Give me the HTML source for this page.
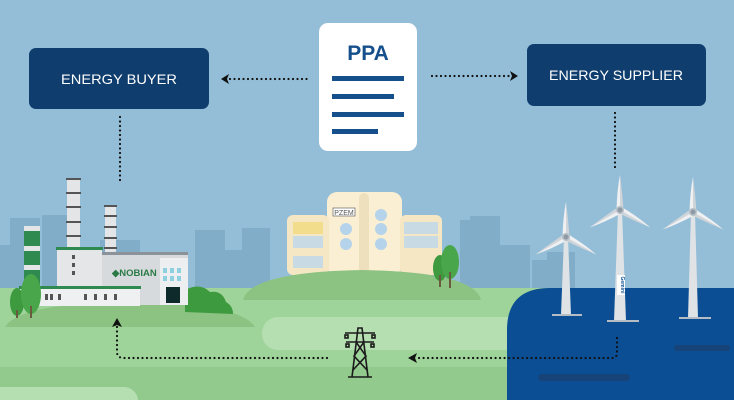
<!DOCTYPE html>
<html><head><meta charset="utf-8"><style>
html,body{margin:0;padding:0;width:734px;height:400px;overflow:hidden;background:#94bed7}
svg{display:block}
text{font-family:"Liberation Sans",sans-serif}
</style></head><body>
<svg width="734" height="400" viewBox="0 0 734 400" xmlns="http://www.w3.org/2000/svg">
<defs>
<g id="blade"><path d="M-3.5,0 Q-3,-20 0,-35 L3,0 Z" fill="#eef0f2"/><path d="M0,0 L0,-35 Q2,-20 3.5,0 Z" fill="#cfd4d9"/></g>
<g id="rotor">
<use href="#blade"/><use href="#blade" transform="rotate(120)"/><use href="#blade" transform="rotate(240)"/>
<circle r="4" fill="#b9c1c8"/><circle r="2.5" fill="#8e9aa5"/>
</g>
</defs>
<rect width="734" height="400" fill="#94bed7"/>
<!-- skyline -->
<g fill="#82adc9">
<rect x="0" y="245" width="40" height="45"/><rect x="10" y="218" width="30" height="72"/>
<rect x="42" y="215" width="25" height="75"/><rect x="195" y="230" width="30" height="60"/>
<rect x="225" y="250" width="20" height="40"/><rect x="242" y="228" width="28" height="62"/>
<rect x="460" y="220" width="40" height="70"/><rect x="500" y="245" width="30" height="45"/>
<rect x="470" y="216" width="30" height="10"/>
<rect x="532" y="260" width="15" height="30"/><rect x="547" y="252" width="28" height="38"/>
<rect x="100" y="240" width="40" height="50"/>
</g>
<!-- ground -->
<rect x="0" y="288" width="734" height="112" fill="#9ed39a"/>
<rect x="0" y="367" width="734" height="33" fill="#92ca8d"/>
<!-- center hill & building -->
<g>
<rect x="327" y="192" width="75" height="83" rx="10" fill="#fbefd3"/>
<rect x="287" y="215" width="42" height="60" rx="6" fill="#f5e6c4"/>
<rect x="400" y="215" width="42" height="60" rx="6" fill="#f5e6c4"/>
<rect x="359" y="193" width="10" height="82" rx="5" fill="#efe0bd"/>
<rect x="293" y="222" width="30" height="12" fill="#f2dd8c"/>
<rect x="293" y="236" width="30" height="12" fill="#c8dbe5"/>
<rect x="404" y="222" width="34" height="12" fill="#c8dbe5"/>
<rect x="404" y="236" width="34" height="12" fill="#c8dbe5"/>
<rect x="293" y="256" width="30" height="12" fill="#c8dbe5"/>
<circle cx="346" cy="229" r="6" fill="#b5d3ea"/><circle cx="346" cy="244" r="6" fill="#b5d3ea"/>
<circle cx="381" cy="215" r="6" fill="#b5d3ea"/><circle cx="381" cy="229" r="6" fill="#b5d3ea"/><circle cx="381" cy="244" r="6" fill="#b5d3ea"/>
<rect x="333" y="208" width="22" height="8" fill="#fff" stroke="#666" stroke-width="0.7"/>
<text x="344" y="215" font-size="7" text-anchor="middle" fill="#555">PZEM</text>
<path d="M243,300 Q250,272 362,270 Q474,272 481,300 Z" fill="#8cc382"/>
<ellipse cx="440" cy="268" rx="7" ry="13" fill="#3f9a3f"/><rect x="439" y="275" width="2" height="12" fill="#6a5a40"/>
<ellipse cx="450" cy="262" rx="9" ry="17" fill="#4aa64a"/><rect x="449" y="272" width="2" height="16" fill="#6a5a40"/>
</g>
<rect x="262" y="317" width="300" height="33" rx="16" fill="#b6dfb1"/>
<rect x="-20" y="387" width="158" height="30" rx="14" fill="#b6dfb1"/>
<!-- factory hill -->
<path d="M5,327 Q20,303 130,302 Q240,303 255,327 Z" fill="#8cc382"/>
<path d="M185,312 L185,290 Q200,282 210,292 Q222,290 226,302 Q233,306 233,314 Z" fill="#3e9a3e"/>
<!-- factory -->
<g>
<rect x="67" y="178" width="13" height="72" fill="#e3e5e7"/>
<g fill="#555"><rect x="66" y="178" width="15" height="2"/><rect x="66" y="192" width="15" height="2"/><rect x="66" y="206" width="15" height="2"/><rect x="66" y="221" width="15" height="2"/><rect x="66" y="235" width="15" height="2"/></g>
<rect x="105" y="205" width="11" height="52" fill="#e3e5e7"/>
<g fill="#555"><rect x="104" y="205" width="13" height="2"/><rect x="104" y="215" width="13" height="2"/><rect x="104" y="226" width="13" height="2"/><rect x="104" y="237" width="13" height="2"/><rect x="104" y="247" width="13" height="2"/></g>
<rect x="24" y="226" width="16" height="60" fill="#2e8a4e"/>
<g fill="#e3e5e7"><rect x="24" y="226" width="16" height="5"/><rect x="24" y="246" width="16" height="5"/><rect x="24" y="265" width="16" height="5"/></g>
<rect x="57" y="248" width="45" height="45" fill="#e4e6e8"/><rect x="56" y="247" width="47" height="3" fill="#2e8a4e"/>
<rect x="102" y="253" width="86" height="52" fill="#d7dadd"/>
<rect x="102" y="252" width="86" height="3" fill="#8b9299"/>
<rect x="160" y="258" width="28" height="47" fill="#eceef0"/>
<g fill="#8fd0e0"><rect x="163" y="268" width="4" height="5"/><rect x="170" y="268" width="4" height="5"/><rect x="177" y="268" width="4" height="5"/><rect x="163" y="276" width="4" height="5"/><rect x="170" y="276" width="4" height="5"/><rect x="177" y="276" width="4" height="5"/></g>
<rect x="166" y="287" width="14" height="16" fill="#0f2a2a"/>
<text x="112" y="276" font-size="9.5" font-weight="bold" fill="#2a7a45">◆NOBIAN</text>
<rect x="20" y="288" width="120" height="18" fill="#eef0f1"/><rect x="19" y="286" width="122" height="3" fill="#2e8a4e"/>
<g fill="#555"><rect x="45" y="294" width="3" height="6"/><rect x="50" y="294" width="3" height="6"/><rect x="58" y="294" width="3" height="6"/><rect x="84" y="294" width="3" height="6"/><rect x="94" y="294" width="3" height="6"/><rect x="104" y="294" width="3" height="6"/><rect x="114" y="294" width="3" height="6"/><rect x="72" y="255" width="3" height="4"/><rect x="72" y="263" width="3" height="4"/><rect x="72" y="271" width="3" height="4"/></g>
<ellipse cx="17" cy="302" rx="7" ry="14" fill="#3e9a3e"/><rect x="16" y="310" width="2" height="8" fill="#6a5a40"/>
<ellipse cx="31" cy="294" rx="10" ry="20" fill="#4aa64a"/><rect x="30" y="306" width="2" height="12" fill="#6a5a40"/>
</g>
<!-- sea -->
<path d="M507,400 L507,330 Q507,288 550,288 L734,288 L734,400 Z" fill="#0b4e93"/>
<rect x="538" y="374" width="92" height="7" rx="3.5" fill="#164378"/>
<rect x="674" y="345" width="56" height="6" rx="3" fill="#164378"/>
<!-- turbines -->
<g>
<path d="M564,237 L568,237 L571,315 L561,315 Z" fill="#dfe3e6"/><rect x="552" y="314" width="30" height="2" fill="#b5bcc3"/>
<use href="#rotor" transform="translate(566,237)"/>
<path d="M618,210 L622,210 L626,321 L614,321 Z" fill="#dfe3e6"/><rect x="607" y="320" width="32" height="2" fill="#b5bcc3"/>
<rect x="617" y="275" width="8" height="20" fill="#fff"/><text x="621" y="285" font-size="5" font-weight="bold" fill="#0b4e93" text-anchor="middle" transform="rotate(90 621 285)">Gemini</text>
<use href="#rotor" transform="translate(620,210)"/>
<path d="M691,212 L695,212 L698,318 L688,318 Z" fill="#dfe3e6"/><rect x="679" y="317" width="32" height="2" fill="#b5bcc3"/>
<use href="#rotor" transform="translate(693,212)"/>
</g>
<!-- pylon -->
<g stroke="#1a1a1a" stroke-width="1.6" fill="none">
<path d="M352,377 L358,328 L362,328 L368,377 M348,377 L372,377"/>
<path d="M345,333 L375,333 M346,342 L374,342"/>
<path d="M356,342 L366,356 L353,370 M364,342 L354,356 L367,370"/>
<rect x="345" y="335" width="3" height="3"/><rect x="372" y="335" width="3" height="3"/>
<rect x="346" y="344" width="3" height="3"/><rect x="371" y="344" width="3" height="3"/>
</g>
<!-- dotted connectors -->
<g stroke="#111" stroke-width="2.2" stroke-linecap="round" stroke-dasharray="0 4.5" fill="none">
<line x1="120" y1="117" x2="120" y2="182"/>
<line x1="615" y1="113" x2="615" y2="170"/>
<line x1="230" y1="79" x2="308" y2="79"/>
<line x1="432" y1="76" x2="510" y2="76"/>
<path d="M617,338 L617,353 Q617,358 612,358 L418,358"/>
<path d="M327,358 L124,358 Q117,358 117,352 L117,326"/>
</g>
<g fill="#111">
<path d="M221,79 L229,74 L227,79 L229,84 Z"/>
<path d="M518,76 L510,71 L512,76 L510,81 Z"/>
<path d="M408,358 L417,353 L415,358 L417,363 Z"/>
<path d="M117,318 L112,327 L117,325 L122,327 Z"/>
</g>
<!-- boxes -->
<rect x="29" y="48" width="180" height="61" rx="7" fill="#0f3d6e"/>
<text x="119" y="84" font-size="14" fill="#fff" text-anchor="middle" textLength="116" lengthAdjust="spacingAndGlyphs">ENERGY BUYER</text>
<rect x="527" y="44" width="179" height="62" rx="7" fill="#0f3d6e"/>
<text x="616" y="80" font-size="14" fill="#fff" text-anchor="middle" textLength="134" lengthAdjust="spacingAndGlyphs">ENERGY SUPPLIER</text>
<rect x="319" y="23" width="98" height="128" rx="9" fill="#fff"/>
<text x="368" y="60" font-size="21" font-weight="bold" fill="#154f8c" text-anchor="middle">PPA</text>
<g fill="#154f8c"><rect x="332" y="76" width="72" height="5"/><rect x="332" y="94" width="62" height="5"/><rect x="332" y="112" width="72" height="5"/><rect x="332" y="129" width="46" height="5"/></g>
</svg>
</body></html>
